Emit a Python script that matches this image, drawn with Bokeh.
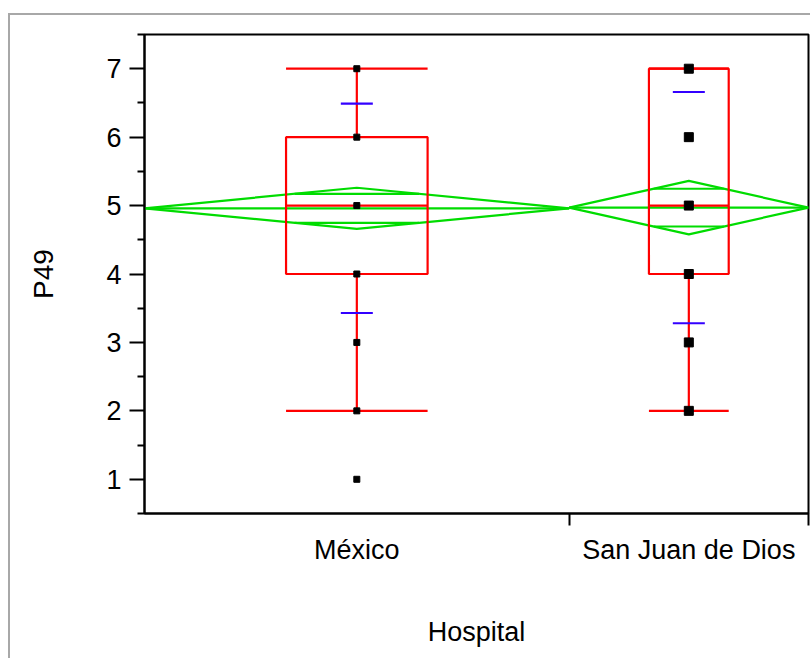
from bokeh.plotting import figure
from bokeh.models import Range1d, FixedTicker
from bokeh.embed import file_html
from bokeh.resources import INLINE

# --- data -----------------------------------------------------------------
hospitals = ["México", "San Juan de Dios"]
counts = [110, 62]                      # group sizes (set the group widths)
mexico_levels = [1, 2, 3, 4, 5, 6, 7]   # distinct P49 responses observed
sjd_levels = [2, 3, 4, 5, 6, 7]
q10 = [2, 2]
q25 = [4, 4]
q50 = [5, 5]
q75 = [6, 7]
q90 = [7, 7]
means = [4.96, 4.97]
std_devs = [1.53, 1.69]
ci95_half = [0.30, 0.39]
y_ticks = [1, 2, 3, 4, 5, 6, 7]
y_minor = [0.5, 1.5, 2.5, 3.5, 4.5, 5.5, 6.5, 7.5]

RED = "#ff0000"
GREEN = "#00dc00"
BLUE = "#3300ff"
FONT = "Liberation Sans"

# group extents along x are proportional to group size
total = sum(counts)
lefts, rights, centers = [], [], []
acc = 0
for n in counts:
    lefts.append(acc)
    rights.append(acc + n)
    centers.append(acc + n / 2)
    acc += n
box_half = [n / 6 for n in counts]

p = figure(
    width=802, height=645,
    x_range=Range1d(0, total), y_range=Range1d(0.5, 7.5),
    output_backend="svg", toolbar_location=None,
    min_border_left=134, min_border_right=4,
    min_border_top=19, min_border_bottom=147,
)
p.styles = {
    "margin-left": "8px", "margin-top": "13px",
    "border-left": "2px solid #a8a8a8", "border-top": "2px solid #a8a8a8",
}
p.xgrid.visible = False
p.ygrid.visible = False
p.outline_line_color = "black"
p.outline_line_width = 2
p.background_fill_color = "white"
p.border_fill_color = "white"

# --- axes -----------------------------------------------------------------
xa = p.xaxis[0]
xa.ticker = FixedTicker(ticks=centers, minor_ticks=[rights[0], rights[1]])
xa.major_label_overrides = {centers[i]: hospitals[i] for i in range(len(hospitals))}
xa.major_tick_out = 0
xa.major_tick_in = 0
xa.minor_tick_out = 12
xa.minor_tick_in = 0
xa.minor_tick_line_width = 2
xa.axis_line_width = 2
xa.major_label_standoff = 9
xa.axis_label = "Hospital"
xa.axis_label_standoff = 49

ya = p.yaxis[0]
ya.ticker = FixedTicker(ticks=y_ticks, minor_ticks=y_minor)
ya.major_tick_out = 15
ya.major_tick_in = 0
ya.minor_tick_out = 7
ya.minor_tick_in = 0
ya.major_tick_line_width = 2
ya.minor_tick_line_width = 2
ya.axis_line_width = 2
ya.major_label_standoff = 8
ya.axis_label = "P49"
ya.axis_label_standoff = 44

for ax in (xa, ya):
    ax.axis_line_color = "black"
    ax.major_tick_line_color = "black"
    ax.minor_tick_line_color = "black"
    ax.major_label_text_font = FONT
    ax.major_label_text_font_size = "27px"
    ax.major_label_text_color = "black"
    ax.axis_label_text_font = FONT
    ax.axis_label_text_font_size = "27px"
    ax.axis_label_text_font_style = "normal"
    ax.axis_label_text_color = "black"
ya.axis_label_text_font_size = "28px"

# --- means diamonds (green) -----------------------------------------------
d_xs, d_ys = [], []
for i in range(len(counts)):
    d_xs.append([lefts[i], centers[i], rights[i], centers[i], lefts[i]])
    d_ys.append([means[i], means[i] + ci95_half[i], means[i],
                 means[i] - ci95_half[i], means[i]])
p.multi_line(d_xs, d_ys, line_color=GREEN, line_width=2.2)
p.segment(x0=lefts, x1=rights, y0=means, y1=means, line_color=GREEN, line_width=2.2)

# overlap marks sit at mean +/- ci/sqrt(2), between the diamond's sides
k = 2 ** -0.5
ov_x0, ov_x1, ov_y = [], [], []
for i in range(len(counts)):
    half = counts[i] / 2
    for s in (1, -1):
        ov_x0.append(centers[i] - half * (1 - k))
        ov_x1.append(centers[i] + half * (1 - k))
        ov_y.append(means[i] + s * ci95_half[i] * k)
p.segment(x0=ov_x0, x1=ov_x1, y0=ov_y, y1=ov_y, line_color=GREEN, line_width=2.2)

# --- quantile boxes (red) ---------------------------------------------------
bl = [c - h for c, h in zip(centers, box_half)]
br = [c + h for c, h in zip(centers, box_half)]
p.quad(left=bl, right=br, bottom=q25, top=q75, fill_color=None,
       line_color=RED, line_width=2.2)
p.segment(x0=bl, x1=br, y0=q50, y1=q50, line_color=RED, line_width=2.2)
p.segment(x0=centers, x1=centers, y0=q75, y1=q90, line_color=RED, line_width=2.2)
p.segment(x0=centers, x1=centers, y0=q25, y1=q10, line_color=RED, line_width=2.2)
p.segment(x0=bl, x1=br, y0=q90, y1=q90, line_color=RED, line_width=2.2)
p.segment(x0=bl, x1=br, y0=q10, y1=q10, line_color=RED, line_width=2.2)

# --- standard deviation marks (blue) ----------------------------------------
sd_x = centers + centers
sd_y = [m + s for m, s in zip(means, std_devs)] + [m - s for m, s in zip(means, std_devs)]
p.scatter(sd_x, sd_y, marker="dash", size=32, line_color=BLUE, line_width=2.2)

# --- observations -----------------------------------------------------------
p.scatter([centers[0]] * len(mexico_levels), mexico_levels, marker="square",
          size=6, fill_color="black", line_color="black")
p.scatter([centers[1]] * len(sjd_levels), sjd_levels, marker="square",
          size=9, fill_color="black", line_color="black")

open("out.html", "w").write(file_html(p, INLINE))
